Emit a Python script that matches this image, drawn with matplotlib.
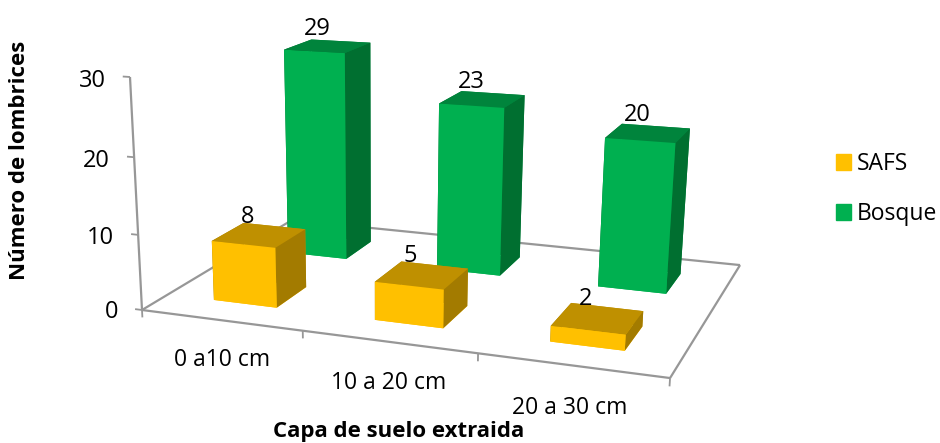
import numpy as np
import matplotlib
matplotlib.use('Agg')
import matplotlib.pyplot as plt
from matplotlib.patches import Patch
from mpl_toolkits.mplot3d.art3d import Line3DCollection

plt.rcParams['font.family'] = ['Open Sans', 'DejaVu Sans']

# Datos
capas = ['0 a10 cm', '10 a 20 cm', '20 a 30 cm']
safs = [8, 5, 2]
bosque = [29, 23, 20]
ticks_y = [0, 10, 20, 30]

# Colores de cada cara: abajo, arriba, frente, atras, izquierda, derecha
caras_safs = ['#FFC000', '#BF9000', '#FFC000', '#BF9000', '#A37B00', '#A37B00']
caras_bosque = ['#00B050', '#00843C', '#00B050', '#00843C', '#006F30', '#006F30']
gris = '#979797'

fig = plt.figure(figsize=(9.4, 4.43), dpi=100)
# Axes3D siempre es cuadrado: lo hacemos de 940x940 px centrado en la figura
ax = fig.add_axes([0, (443 - 940) / 2 / 443, 1, 940 / 443], projection='3d')
ax.set_xticks([])
ax.set_yticks([])
ax.set_zticks([])
ax.set_axis_off()
ax.computed_zorder = False

# Camara ajustada al grafico original (x categoria, y profundidad, z valor -> pixeles)
w_fila = [-0.1247 / 3, 0.198, -0.0016, 1]
camara = np.array([
    [444.5 / 3, 207.8, -0.608, 142],
    [20.9 / 3, -46.4, -7.89, 310],
    np.array(w_fila) - np.array([0, 0, 0, 0.5]),
    w_fila,
])


# Texto 2D colocado en un punto 3D
def texto(x, y, z, s, **kw):
    p = camara @ np.array([x, y, z, 1])
    ax.text2D(p[0] / p[3], p[1] / p[3], s, transform=ax.transData, va='center', color='black', zorder=10, **kw)


ancho = 0.4
fondo = 0.2
for i in range(len(capas)):
    # Primero las barras de atras
    ax.bar3d(i + 0.5 - ancho / 2, 0.65, 0, ancho, fondo, bosque[i], color=caras_bosque,
             shade=False, edgecolor='none', linewidth=0, zorder=5 - i * 0.1)
    ax.bar3d(i + 0.5 - ancho / 2, 0.15, 0, ancho, fondo, safs[i], color=caras_safs,
             shade=False, edgecolor='none', linewidth=0, zorder=6 + i * 0.1)

# Piso y ejes
n = len(capas)
ejes = [
    [(0, 0, 0), (n, 0, 0)],
    [(n, 0, 0), (n, 1, 0)],
    [(n, 1, 0), (0, 1, 0)],
    [(0, 1, 0), (0, 0, 0)],
    [(0, 0, 0), (0, 0, ticks_y[-1])],
]
marcas = [[(-0.045, 0, t), (0, 0, t)] for t in ticks_y]
marcas += [[(i, 0, 0), (i, 0, -1)] for i in range(n + 1)]
ax.add_collection3d(Line3DCollection(ejes, colors=gris, linewidths=1.6, zorder=2))
ax.add_collection3d(Line3DCollection(marcas, colors=gris, linewidths=1.3, zorder=2))

for t in ticks_y:
    texto(-0.155, 0, t - 0.7, str(t), ha='right', fontsize=17)
for i, capa in enumerate(capas):
    texto(i + 0.5, 0, -5.3, capa, ha='center', fontsize=16.5)

# Etiquetas de valores
for i in range(n):
    texto(i + 0.43, 0.25, safs[i] + 2.3, str(safs[i]), ha='center', fontsize=17)
    texto(i + 0.43, 0.75, bosque[i] + 2.3, str(bosque[i]), ha='center', fontsize=17)

ax.get_proj = lambda: camara
ax.viewLim.intervalx = (0, 940)
ax.viewLim.intervaly = (443 + 248.5, -248.5)

fig.text(20 / 940, 1 - 160 / 443, 'Número de lombrices', rotation=90, ha='center', va='center',
         fontsize=16, fontweight='bold')
fig.text(399 / 940, 1 - 431 / 443, 'Capa de suelo extraida', ha='center', va='center',
         fontsize=16, fontweight='bold')

fig.legend(handles=[Patch(color='#FFC000', label='SAFS'), Patch(color='#00B050', label='Bosque')],
           loc='center left', bbox_to_anchor=(836 / 940, 1 - 189 / 443), frameon=False,
           fontsize=16.5, handlelength=0.655, handleheight=0.655, handletextpad=0.26,
           labelspacing=1.14, borderpad=0, borderaxespad=0)

fig.savefig('out.png', dpi=100)
